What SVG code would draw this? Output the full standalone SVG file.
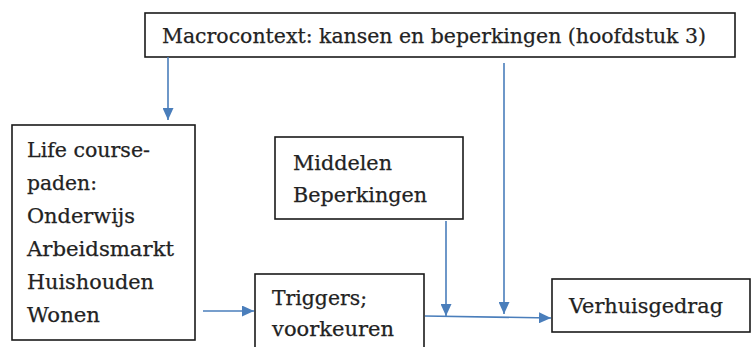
<svg xmlns="http://www.w3.org/2000/svg" width="752" height="347" viewBox="0 0 752 347">
<defs>
<style>
.box{fill:#fff;stroke:#1a1a1a;stroke-width:1.6}
.t{font-family:"DejaVu Serif","Liberation Serif",serif;font-size:20.5px;fill:#222;stroke:#222;stroke-width:0.25}
.c{stroke:#4a7ebb;stroke-width:1.6;fill:none;marker-end:url(#ah)}
</style>
<marker id="ah" markerUnits="userSpaceOnUse" markerWidth="13" markerHeight="11" refX="12" refY="5.5" orient="auto" viewBox="0 0 13 11">
<path d="M0,0 L12,5.5 L0,11 z" fill="#4a7ebb"/>
</marker>
</defs>
<rect width="752" height="347" fill="#fff"/>
<g id="macro">
<rect class="box" x="145" y="13" width="590" height="44"/>
<text class="t" x="162" y="43" textLength="544" lengthAdjust="spacingAndGlyphs">Macrocontext: kansen en beperkingen (hoofdstuk 3)</text>
</g>
<g id="lifecourse">
<rect class="box" x="12" y="125" width="183" height="215"/>
<text class="t" x="27" y="157" textLength="123" lengthAdjust="spacingAndGlyphs">Life course-</text>
<text class="t" x="27" y="190" textLength="70" lengthAdjust="spacingAndGlyphs">paden:</text>
<text class="t" x="27" y="223" textLength="108" lengthAdjust="spacingAndGlyphs">Onderwijs</text>
<text class="t" x="27" y="256" textLength="147" lengthAdjust="spacingAndGlyphs">Arbeidsmarkt</text>
<text class="t" x="27" y="289" textLength="127" lengthAdjust="spacingAndGlyphs">Huishouden</text>
<text class="t" x="27" y="322" textLength="73" lengthAdjust="spacingAndGlyphs">Wonen</text>
</g>
<g id="middelen">
<rect class="box" x="275" y="137" width="188" height="82"/>
<text class="t" x="293" y="170" textLength="99" lengthAdjust="spacingAndGlyphs">Middelen</text>
<text class="t" x="293" y="202" textLength="134" lengthAdjust="spacingAndGlyphs">Beperkingen</text>
</g>
<g id="triggers">
<rect class="box" x="255" y="274" width="169" height="90"/>
<text class="t" x="272" y="305" textLength="95" lengthAdjust="spacingAndGlyphs">Triggers;</text>
<text class="t" x="272" y="336" textLength="122" lengthAdjust="spacingAndGlyphs">voorkeuren</text>
</g>
<g id="verhuisgedrag">
<rect class="box" x="552" y="279" width="198" height="53"/>
<text class="t" x="569" y="313" textLength="154" lengthAdjust="spacingAndGlyphs">Verhuisgedrag</text>
</g>
<g id="connectors">
<line class="c" x1="168" y1="57" x2="168" y2="120"/>
<line class="c" x1="504" y1="63" x2="504" y2="314"/>
<line class="c" x1="446" y1="221" x2="446" y2="316"/>
<line class="c" x1="425" y1="316" x2="551" y2="318"/>
<line class="c" x1="203" y1="311" x2="254" y2="311"/>
</g>
</svg>
